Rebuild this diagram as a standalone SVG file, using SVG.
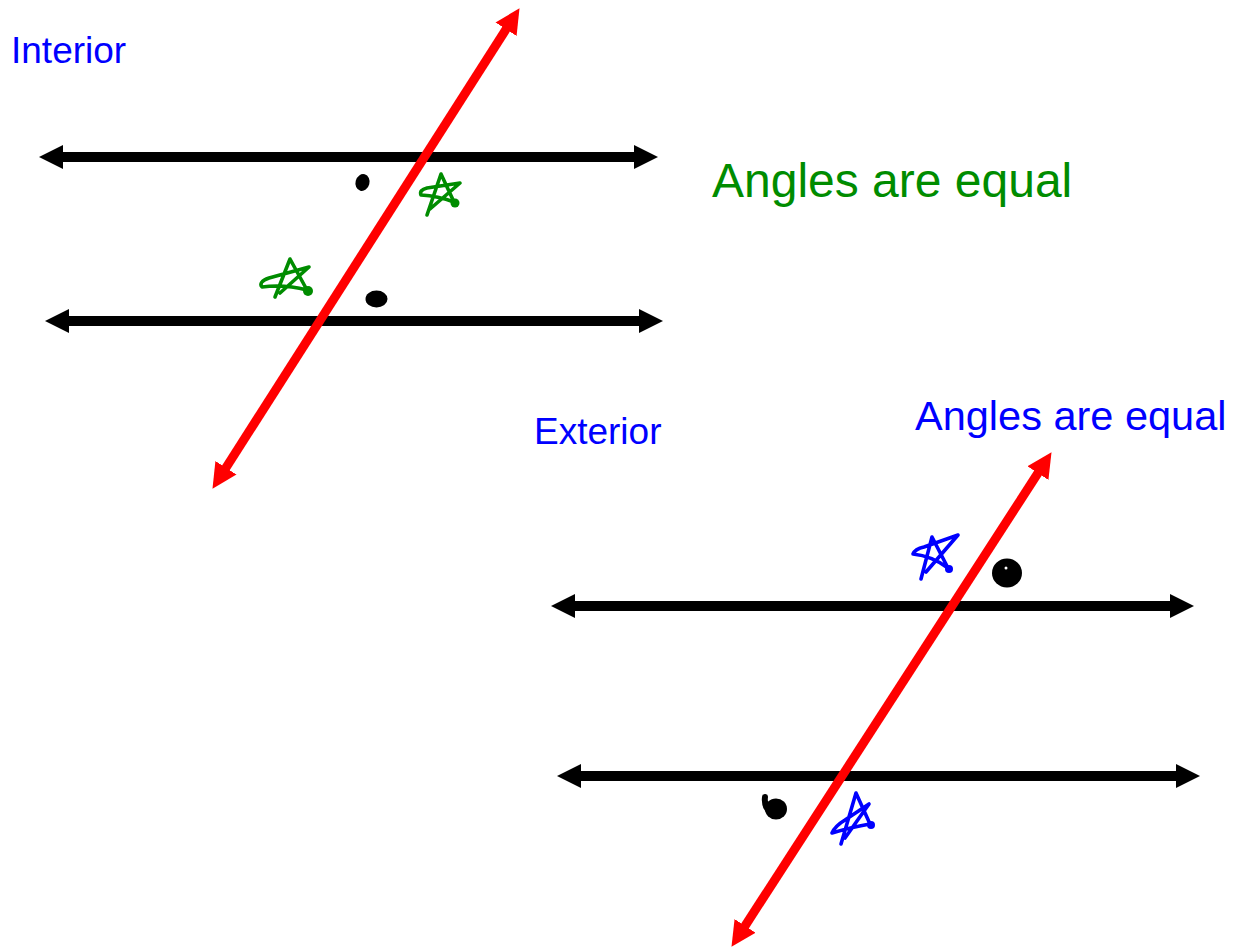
<svg xmlns="http://www.w3.org/2000/svg" width="1247" height="947" viewBox="0 0 1247 947">
  <style>
    .lbl { font-family: "Liberation Sans", Arial, sans-serif; font-size: 37px; fill: #0000ff; }
    .hand { font-family: "Liberation Sans", Arial, sans-serif; }
    .blk { stroke: #000; stroke-width: 10; fill: none; }
    .red { stroke: #ff0000; stroke-width: 9; fill: none; }
    .star { fill: none; stroke-width: 3.6; stroke-linecap: round; stroke-linejoin: round; }
    .g { stroke: #008c00; }
    .b { stroke: #0000ff; }
  </style>
  <defs>
    <marker id="ahB" markerUnits="userSpaceOnUse" markerWidth="26" markerHeight="26" viewBox="0 -13 26 26" refX="2" refY="0" orient="auto-start-reverse">
      <path d="M0,-12 L24,0 L0,12 z" fill="#000"/>
    </marker>
    <marker id="ahR" markerUnits="userSpaceOnUse" markerWidth="28" markerHeight="28" viewBox="0 -14 28 28" refX="4" refY="0" orient="auto-start-reverse">
      <path d="M0,-12.5 L25,0 L0,12.5 z" fill="#ff0000"/>
    </marker>
  </defs>
  <rect width="1247" height="947" fill="#fff"/>

  <g id="label-interior"><text class="lbl" x="11" y="63">Interior</text></g>
  <g id="label-exterior"><text class="lbl" x="534" y="444">Exterior</text></g>

  <g id="note-green"><text class="hand" x="712" y="197" font-size="48" fill="#008c00">Angles are equal</text></g>
  <g id="note-blue"><text class="hand" x="915" y="430" font-size="41.5" fill="#0000ff">Angles are equal</text></g>

  <g id="connectors">
    <line id="line-a" class="blk" x1="61" y1="157" x2="636" y2="157" marker-start="url(#ahB)" marker-end="url(#ahB)"/>
    <line id="line-b" class="blk" x1="67" y1="321" x2="641" y2="321" marker-start="url(#ahB)" marker-end="url(#ahB)"/>
    <line id="transversal-1" class="red" x1="223.8" y1="471.1" x2="508.2" y2="25.9" marker-start="url(#ahR)" marker-end="url(#ahR)"/>
    <line id="line-c" class="blk" x1="573" y1="606" x2="1172" y2="606" marker-start="url(#ahB)" marker-end="url(#ahB)"/>
    <line id="line-d" class="blk" x1="579" y1="776" x2="1178" y2="776" marker-start="url(#ahB)" marker-end="url(#ahB)"/>
    <line id="transversal-2" class="red" x1="742.9" y1="929.2" x2="1040.1" y2="469.8" marker-start="url(#ahR)" marker-end="url(#ahR)"/>
  </g>

  <g id="marks">
    <g id="dot-1"><ellipse cx="362.5" cy="182.5" rx="7" ry="8.5" fill="#000" transform="rotate(15 362.5 182.5)"/></g>
    <g id="dot-2"><ellipse cx="376.5" cy="299" rx="11" ry="8.5" fill="#000"/></g>
    <g id="dot-3"><ellipse cx="1007" cy="573" rx="15" ry="14.5" fill="#000"/><circle cx="1006" cy="568" r="1.5" fill="#fff"/></g>
    <g id="dot-4"><ellipse cx="776" cy="809" rx="11" ry="10.5" fill="#000"/><path d="M765,797 Q764,805 768,810" stroke="#000" stroke-width="6" fill="none" stroke-linecap="round"/></g>

    <g id="star-1">
      <path class="star g" d="M427,215 L441,174 L454,202 M454,202 Q438,196 421,195 Q419,190 427,188 L460,183 L430,209"/>
      <circle cx="455" cy="203" r="4.5" fill="#008c00"/>
    </g>
    <g id="star-2">
      <path class="star g" d="M275,297 L290,259 L307,290 M307,290 Q284,284 262,287 Q258,282 269,278 L309,267 L280,293"/>
      <circle cx="308" cy="291" r="5" fill="#008c00"/>
    </g>
    <g id="star-3">
      <path class="star b" d="M921,579 L932,537 L948,568 M948,568 Q932,556 913,554 Q915,549 924,547 L958,535 L926,572"/>
      <circle cx="949" cy="569" r="4" fill="#0000ff"/>
    </g>
    <g id="star-4">
      <path class="star b" d="M841,844 L856,793 L870,824 M870,824 Q852,827 832,833 Q835,826 845,820 L869,804 L845,838"/>
      <circle cx="871" cy="825" r="4" fill="#0000ff"/>
    </g>
  </g>
</svg>
